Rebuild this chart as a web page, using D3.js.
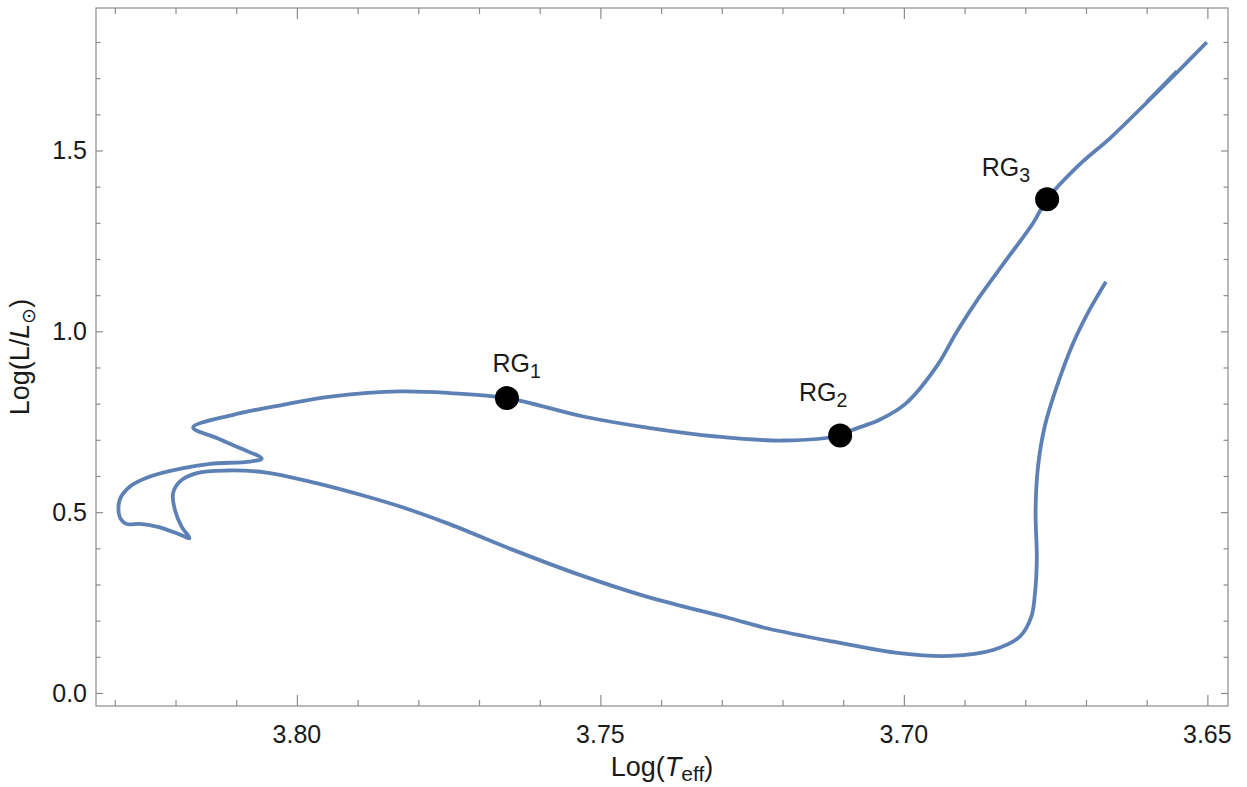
<!DOCTYPE html>
<html>
<head>
<meta charset="utf-8">
<script src="https://cdn.jsdelivr.net/npm/d3@7"></script>
<style>
  html, body { margin: 0; padding: 0; background: #fff; }
  svg { display: block; }
  text { font-family: "Liberation Sans", Arial, sans-serif; }
</style>
</head>
<body>
<svg id="chart" width="1247" height="787"></svg>
<script>
// ---- data ----
const trackLogT = [3.6667,3.6694,3.6721,3.6748,3.6768,3.6779,3.6783,3.6781,3.6784,3.6790,
  3.6809,3.6853,3.6924,3.7007,3.7116,3.7226,3.7287,3.7424,3.7534,3.7644,
  3.7753,3.7830,3.7885,3.7968,3.8050,3.8116,3.8165,3.8193,3.8204,3.8201,
  3.8190,3.8177,3.8198,3.8231,3.8259,3.8281,3.8292,3.8292,3.8275,3.8242,
  3.8187,3.8143,3.8077,3.8058,3.8094,3.8132,3.8171,3.8105,3.8023,3.7941,
  3.7830,3.7748,3.7654,3.7528,3.7418,3.7309,3.7199,3.7105,3.7084,3.7040,
  3.6996,3.6946,3.6912,3.6875,3.6831,3.6787,3.6764,3.6710,3.6661,3.6606,
  3.6548,3.6501];
const trackLogL = [1.1373,1.0598,0.9676,0.8475,0.7369,0.6262,0.5064,0.3680,0.2759,0.2111,
  0.1558,0.1190,0.1024,0.1099,0.1419,0.1790,0.2067,0.2665,0.3265,0.3957,
  0.4696,0.5155,0.5432,0.5802,0.6096,0.6151,0.6079,0.5847,0.5526,0.5064,
  0.4602,0.4281,0.4419,0.4602,0.4676,0.4676,0.4878,0.5340,0.5708,0.5985,
  0.6217,0.6337,0.6400,0.6483,0.6771,0.7048,0.7341,0.7692,0.7969,0.8199,
  0.8337,0.8293,0.8154,0.7645,0.7324,0.7092,0.6981,0.7120,0.7277,0.7554,
  0.8016,0.9029,1.0010,1.0966,1.1981,1.2997,1.3650,1.4620,1.5330,1.6223,
  1.7191,1.7994];
// short doubled stretch of the track near the top
const loopLogT = [3.65997, 3.65502];
const loopLogL = [1.6340, 1.7190];

const rgSub = ["1", "2", "3"];
const rgLogT = [3.7654, 3.7105, 3.6764];
const rgLogL = [0.8154, 0.7120, 1.3650];
const rgLabelLogT = [3.7638, 3.7133, 3.6832];
const rgLabelLogL = [0.888, 0.806, 1.4286];

const xMajorTicks = [3.80, 3.75, 3.70, 3.65];
const xTickLabels = ["3.80", "3.75", "3.70", "3.65"];
const xMinorTicks = [3.83,3.82,3.81,3.79,3.78,3.77,3.76,3.74,3.73,3.72,3.71,3.69,3.68,3.67,3.66];
const yMajorTicks = [0, 0.5, 1.0, 1.5];
const yTickLabels = ["0.0", "0.5", "1.0", "1.5"];
const yMinorTicks = [0.1,0.2,0.3,0.4,0.6,0.7,0.8,0.9,1.1,1.2,1.3,1.4,1.6,1.7,1.8];

// ---- layout ----
const L = 96, R = 1228, T = 8, B = 706;
const svg = d3.select("#chart");
const x = d3.scaleLinear().domain([3.8331, 3.6466]).range([L, R]);
const y = d3.scaleLinear().domain([-0.036, 1.894]).range([B, T]);

const frameColor = "#8c8c8c";
const lineColor = "#5E81B5";
const fontSize = 25;
const titleSize = 27;

// frame
svg.append("rect").attr("x", L).attr("y", T).attr("width", R - L).attr("height", B - T)
  .attr("fill", "none").attr("stroke", frameColor).attr("stroke-width", 1.2);

// axes via d3 axis generators
function addAxis(gen, transform, ticks, size) {
  const g = svg.append("g").attr("transform", transform)
    .call(gen.tickValues(ticks).tickSize(size).tickSizeOuter(0).tickFormat(() => ""));
  g.select(".domain").remove();
  g.selectAll(".tick line").attr("stroke", frameColor).attr("stroke-width", 1.2);
  return g;
}
// bottom
addAxis(d3.axisTop(x), `translate(0,${B})`, xMajorTicks, 11);
addAxis(d3.axisTop(x), `translate(0,${B})`, xMinorTicks, 6);
svg.append("g").selectAll("text").data(xMajorTicks).join("text")
  .attr("x", d => x(d)).attr("y", 743).attr("text-anchor", "middle")
  .attr("font-size", fontSize).attr("fill", "#1a1a1a").text((d, i) => xTickLabels[i]);
// top
addAxis(d3.axisBottom(x), `translate(0,${T})`, xMajorTicks, 11);
addAxis(d3.axisBottom(x), `translate(0,${T})`, xMinorTicks, 6);
// left
addAxis(d3.axisRight(y), `translate(${L},0)`, yMajorTicks, 7);
addAxis(d3.axisRight(y), `translate(${L},0)`, yMinorTicks, 4.5);
svg.append("g").selectAll("text").data(yMajorTicks).join("text")
  .attr("x", 87).attr("y", d => y(d)).attr("dy", "0.36em").attr("text-anchor", "end")
  .attr("font-size", fontSize).attr("fill", "#1a1a1a").text((d, i) => yTickLabels[i]);
// right
addAxis(d3.axisLeft(y), `translate(${R},0)`, yMajorTicks, 7);
addAxis(d3.axisLeft(y), `translate(${R},0)`, yMinorTicks, 4.5);

// axis titles
const xt = svg.append("text").attr("x", (L + R) / 2).attr("y", 776)
  .attr("text-anchor", "middle").attr("font-size", titleSize).attr("fill", "#1a1a1a");
xt.append("tspan").text("Log(");
xt.append("tspan").attr("font-style", "italic").text("T");
xt.append("tspan").attr("font-size", titleSize * 0.78).attr("dy", 5).text("eff");
xt.append("tspan").attr("dy", -5).text(")");

const yt = svg.append("text").attr("transform", `translate(29,${(T + B) / 2}) rotate(-90)`)
  .attr("text-anchor", "middle").attr("font-size", titleSize).attr("fill", "#1a1a1a");
yt.append("tspan").text("Log(L/");
yt.append("tspan").attr("font-style", "italic").text("L");
yt.append("tspan").attr("font-size", titleSize * 0.72).attr("dy", 6).text("\u2299");
yt.append("tspan").attr("dy", -6).text(")");

// track
const pts = trackLogT.map((t, i) => [t, trackLogL[i]]);
const line = d3.line().x(d => x(d[0])).y(d => y(d[1])).curve(d3.curveCatmullRom.alpha(0.5));
svg.append("path").datum(pts).attr("d", line)
  .attr("fill", "none").attr("stroke", lineColor).attr("stroke-width", 3.8)
  .attr("stroke-linejoin", "round").attr("stroke-linecap", "butt");
const loopPts = loopLogT.map((t, i) => [t, loopLogL[i]]);
svg.append("path").datum(loopPts).attr("d", d3.line().x(d => x(d[0])).y(d => y(d[1])))
  .attr("fill", "none").attr("stroke", lineColor).attr("stroke-width", 3.8);

// points
svg.append("g").selectAll("circle").data(rgLogT).join("circle")
  .attr("cx", d => x(d)).attr("cy", (d, i) => y(rgLogL[i])).attr("r", 12).attr("fill", "#000");

// labels
const lab = svg.append("g").selectAll("text").data(rgSub).join("text")
  .attr("x", (d, i) => x(rgLabelLogT[i])).attr("y", (d, i) => y(rgLabelLogL[i]))
  .attr("text-anchor", "middle").attr("font-size", fontSize).attr("fill", "#1a1a1a");
lab.append("tspan").text("RG");
lab.append("tspan").attr("font-size", fontSize * 0.78).attr("dy", 6).text(d => d);
</script>
</body>
</html>
